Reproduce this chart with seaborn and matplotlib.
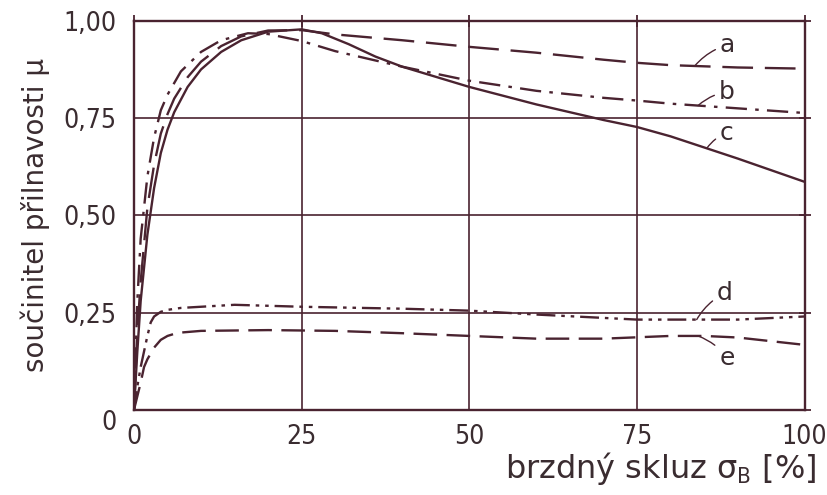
import matplotlib.pyplot as plt
import numpy as np
import pandas as pd
import seaborn as sns

# (brzdny skluz vs soucinitel prilnavosti)
a_x = [0, 0.5, 1, 2, 3, 4, 5, 6, 8, 10, 13, 16, 20, 25, 30, 40, 50, 60, 70, 75, 80, 90, 100]
a_mu = [0, 0.2, 0.33, 0.52, 0.63, 0.71, 0.76, 0.80, 0.855, 0.895, 0.935, 0.96, 0.975, 0.976,
        0.965, 0.95, 0.933, 0.918, 0.90, 0.892, 0.886, 0.88, 0.877]

b_x = [0, 0.5, 1, 2, 3, 4, 5, 7, 10, 13, 17, 20, 25, 30, 40, 50, 60, 70, 75, 80, 90, 100]
b_mu = [0, 0.28, 0.44, 0.60, 0.70, 0.77, 0.81, 0.87, 0.92, 0.95, 0.968, 0.966, 0.948, 0.922,
        0.882, 0.846, 0.82, 0.802, 0.795, 0.787, 0.775, 0.763]

c_x = [0, 0.5, 1, 2, 3, 4, 5, 6, 8, 10, 13, 16, 20, 25, 28, 32, 36, 40, 45, 50, 60, 70, 75, 80, 90, 100]
c_mu = [0, 0.15, 0.28, 0.45, 0.57, 0.66, 0.72, 0.765, 0.83, 0.875, 0.92, 0.95, 0.972, 0.978,
        0.968, 0.94, 0.908, 0.882, 0.856, 0.83, 0.785, 0.745, 0.727, 0.703, 0.646, 0.586]

d_x = [0, 0.5, 1, 1.5, 2, 2.5, 3, 4, 5, 7, 10, 15, 25, 40, 50, 60, 75, 90, 100]
d_mu = [0, 0.06, 0.11, 0.15, 0.19, 0.225, 0.24, 0.252, 0.257, 0.262, 0.265, 0.27, 0.265,
        0.26, 0.255, 0.245, 0.232, 0.232, 0.24]

e_x = [0, 1, 1.5, 2, 3, 4, 5, 6.5, 10, 20, 30, 40, 50, 60, 70, 80, 85, 90, 100]
e_mu = [0, 0.07, 0.11, 0.13, 0.16, 0.18, 0.19, 0.198, 0.203, 0.205, 0.203, 0.197, 0.19,
        0.183, 0.183, 0.19, 0.19, 0.186, 0.167]

curve_names = ["a", "b", "c", "d", "e"]
y_ticks = [0, 0.25, 0.50, 0.75, 1.00]
y_tick_labels = ["0", "0,25", "0,50", "0,75", "1,00"]
x_ticks = [0, 25, 50, 75, 100]

frames = []
for name, xs, ys in zip(curve_names, [a_x, b_x, c_x, d_x, e_x], [a_mu, b_mu, c_mu, d_mu, e_mu]):
    frames.append(pd.DataFrame({"slip": xs, "mu": ys, "curve": name}))
df = pd.concat(frames, ignore_index=True)

ink = "#4a2330"
txt = "#3a2c30"

sns.set_theme(style="white")
plt.rcParams["font.family"] = ["DejaVu Sans"]
plt.rcParams["font.stretch"] = "condensed"

fig = plt.figure(figsize=(8.27, 4.95), dpi=100)
ax = fig.add_axes([0.162, 0.172, 0.811, 0.786])

dashes = {
    "a": (13, 5),
    "b": (9, 3.5, 1.5, 3.5),
    "c": "",
    "d": (8, 2.5, 1.5, 2.5, 1.5, 2.5),
    "e": (10, 4),
}
sns.lineplot(data=df, x="slip", y="mu", style="curve", dashes=dashes, color=ink,
             linewidth=1.7, estimator=None, sort=False, legend=False, ax=ax)

ax.set_xlim(0, 100)
ax.set_ylim(0, 1.0)
ax.set_xticks(x_ticks)
ax.set_xticklabels([str(t) for t in x_ticks])
ax.set_yticks(y_ticks)
ax.set_yticklabels(y_tick_labels)
ax.grid(True, color=ink, linewidth=1.2)
for s in ax.spines.values():
    s.set_color(ink)
    s.set_linewidth(1.7)
ax.tick_params(direction="inout", length=9, width=1.3, color=ink, labelsize=19,
               labelcolor=txt, top=True, right=True, labeltop=False, labelright=False)
ax.tick_params(axis="y", pad=8)
ax.tick_params(axis="x", pad=6)
ax.get_yticklabels()[0].set_va("top")

ax.set_xlabel("brzdný skluz σ$_\\mathrm{B}$ [%]", loc="right", fontsize=23, color=txt,
              labelpad=0, fontstretch="normal")
ax.xaxis.label.set_x(1.018)
ax.set_ylabel("součinitel přilnavosti μ", fontsize=20, color=txt, labelpad=10,
              fontstretch="normal")

# curve labels with leader lines
label_pos = {"a": (88.5, 0.938), "b": (88.4, 0.817), "c": (88.4, 0.712),
             "d": (88.1, 0.30), "e": (88.4, 0.134)}
leader_x = {"a": 83.6, "b": 84.1, "c": 85.4, "d": 83.9, "e": 84.1}
for name, xs, ys in zip(curve_names, [a_x, b_x, c_x, d_x, e_x], [a_mu, b_mu, c_mu, d_mu, e_mu]):
    lx = leader_x[name]
    ly = np.interp(lx, xs, ys)
    ax.annotate(name, xy=(lx, ly), xytext=label_pos[name], ha="center", va="center",
                fontsize=18, color=txt, fontstretch="normal",
                arrowprops=dict(arrowstyle="-", color=ink, lw=1.0, shrinkA=1, shrinkB=0,
                                connectionstyle="arc3,rad=0.15"))

fig.savefig("out.png", dpi=100)
